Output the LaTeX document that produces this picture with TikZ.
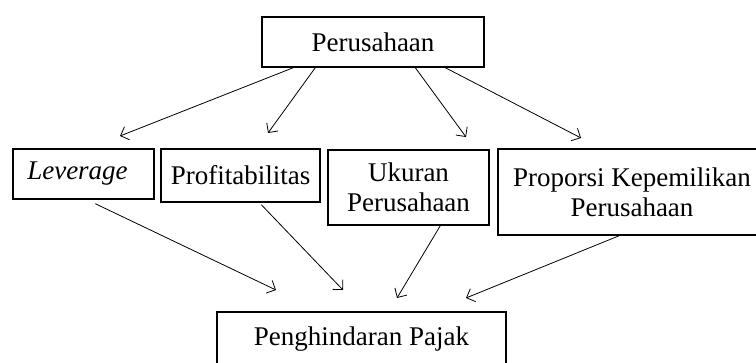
\documentclass[tikz,border=0pt]{standalone}
\usepackage{fontspec}
\setmainfont{Liberation Serif}
\usetikzlibrary{arrows.meta,calc}
\begin{document}
\begin{tikzpicture}[x=1pt,y=-1pt,
  box/.style={draw,line width=1.4pt,inner sep=0pt,align=center,
    font=\fontsize{27}{30}\selectfont},
  conn/.style={line width=0.8pt,-{Straight Barb[length=7pt,width=14pt,line width=0.8pt]}}]
\useasboundingbox (0,0) rectangle (756,363);
\clip (0,0) rectangle (756,363);
\node[box,minimum width=222pt,minimum height=50pt] (top) at (373,42) {Perusahaan};
\node[box,minimum width=141pt,minimum height=50pt] (lev) at (83.5,174) {\textit{Leverage}\hspace*{12pt}};
\node[box,minimum width=159pt,minimum height=53pt] (prof) at (240.5,175.5) {Profitabilitas};
\node[box,minimum width=161pt,minimum height=75pt] (uk) at (408.5,187.5) {Ukuran\\Perusahaan};
\node[box,minimum width=268pt,minimum height=86pt] (prop) at (632,192) {Proporsi Kepemilikan\\Perusahaan};
\node[box,minimum width=289pt,minimum height=54pt] (ph) at (361.5,339) {Penghindaran Pajak};
\coordinate (e1) at (120,136);
\coordinate (e2) at (268,133);
\coordinate (e3) at (466,137);
\coordinate (e4) at (581,138);
\coordinate (f1) at (276,290);
\coordinate (f2) at (343,290);
\coordinate (f3) at (397,298);
\coordinate (f4) at (466,298);
\draw[conn] ($(top.south west)+(32,0)$) -- (e1);
\draw[conn] ($(top.south west)+(54,0)$) -- (e2);
\draw[conn] ($(top.south west)+(154,0)$) -- (e3);
\draw[conn] ($(top.south west)+(184,0)$) -- (e4);
\draw[conn] ($(lev.south west)+(83,4)$) -- (f1);
\draw[conn] ($(prof.south west)+(101,2)$) -- (f2);
\draw[conn] ($(uk.south west)+(113,0)$) -- (f3);
\draw[conn] ($(prop.south west)+(122,0)$) -- (f4);
\end{tikzpicture}
\end{document}
